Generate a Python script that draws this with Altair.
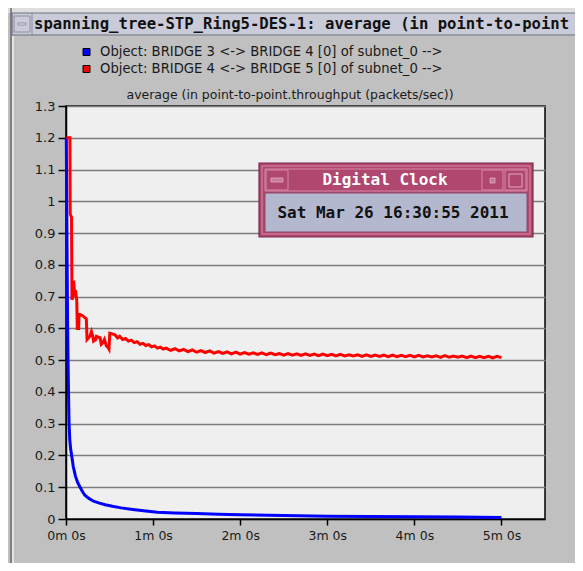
import altair as alt
import pandas as pd

# ---------------- data ----------------
series_names = [
    "Object: BRIDGE 3 <-> BRIDGE 4 [0] of subnet_0 -->",
    "Object: BRIDGE 4 <-> BRIDGE 5 [0] of subnet_0 -->",
]
series_colors = ["#0000ff", "#ff0000"]

blue_t = [0.2, 0.5, 0.8, 1.1, 1.4, 1.8, 2.1, 2.6, 3.2, 3.9, 5.0, 6.5, 8.0, 9.7, 11.5,
          13.0, 16.0, 19.0, 23.0, 27.0, 32.0, 38.0, 46.0, 55.0, 63.0, 75.0, 90.0, 105.0,
          120.0, 150.0, 180.0, 210.0, 240.0, 270.0, 300.0]
blue_v = [1.20, 1.00, 0.80, 0.62, 0.50, 0.38, 0.30, 0.25, 0.22, 0.20, 0.165, 0.135, 0.115,
          0.100, 0.085, 0.075, 0.064, 0.056, 0.050, 0.045, 0.040, 0.035, 0.030, 0.025, 0.021,
          0.019, 0.017, 0.015, 0.013, 0.011, 0.009, 0.008, 0.007, 0.006, 0.005]

red_t = [0.3, 2.7, 2.9, 3.8, 4.1, 4.9, 5.2, 6.0, 6.5, 7.4, 7.8, 8.7, 9.0, 11.5, 14.0, 14.5,
         16.5, 17.5, 18.5, 19.0, 20.5, 21.0, 23.5, 24.3, 25.5, 26.5, 27.8, 29.0, 29.6, 30.2,
         33.8, 35.5, 37.0, 39.0, 41.0, 43.0, 45.0, 47.0, 49.0, 51.0, 53.0, 55.0, 57.0, 59.0,
         61.0, 63.0, 65.0, 67.0,
         69, 72, 75, 78, 81, 84, 87, 90, 93, 96, 99, 102, 105, 108, 111, 114, 117, 120,
         123, 126, 129, 132, 135, 138, 141, 144, 147, 150, 153, 156, 159, 162, 165, 168,
         171, 174, 177, 180, 183, 186, 189, 192, 195, 198, 201, 204, 207, 210, 213, 216,
         219, 222, 225, 228, 231, 234, 237, 240, 243, 246, 249, 252, 255, 258, 261, 264,
         267, 270, 273, 276, 279, 282, 285, 288, 291, 294, 297, 300]
red_v = [1.20, 1.20, 0.96, 0.95, 0.69, 0.70, 0.75, 0.71, 0.72, 0.69, 0.60, 0.60, 0.645, 0.64,
         0.63, 0.565, 0.575, 0.59, 0.575, 0.56, 0.565, 0.575, 0.57, 0.55, 0.555, 0.565, 0.545,
         0.54, 0.535, 0.585, 0.58, 0.57, 0.575, 0.565, 0.568, 0.56, 0.563, 0.555, 0.558, 0.55,
         0.553, 0.546, 0.549, 0.542, 0.545, 0.538, 0.541, 0.535,
         0.538, 0.531, 0.536, 0.529, 0.534, 0.527, 0.532, 0.525, 0.530, 0.524, 0.529, 0.522,
         0.527, 0.521, 0.526, 0.520, 0.525, 0.519, 0.524, 0.519, 0.523, 0.518, 0.523, 0.517,
         0.522, 0.517, 0.521, 0.516, 0.521, 0.516, 0.520, 0.515, 0.520, 0.515, 0.519, 0.514,
         0.519, 0.514, 0.518, 0.513, 0.518, 0.513, 0.517, 0.513, 0.517, 0.512, 0.517, 0.512,
         0.516, 0.512, 0.516, 0.511, 0.516, 0.511, 0.515, 0.511, 0.515, 0.510, 0.515, 0.510,
         0.514, 0.510, 0.514, 0.509, 0.514, 0.509, 0.513, 0.509, 0.513, 0.508, 0.513, 0.508,
         0.512, 0.508, 0.512, 0.507, 0.512, 0.508]

y_ticks = [0, 0.1, 0.2, 0.3, 0.4, 0.5, 0.6, 0.7, 0.8, 0.9, 1.0, 1.1, 1.2, 1.3]
x_ticks = [0, 60, 120, 180, 240, 300]
x_labels = ["0m 0s", "1m 0s", "2m 0s", "3m 0s", "4m 0s", "5m 0s"]

window_title = "spanning_tree-STP_Ring5-DES-1: average (in point-to-point"
plot_title = "average (in point-to-point.throughput (packets/sec))"
clock_title = "Digital Clock"
clock_text = "Sat Mar 26 16:30:55 2011"

# ---------------- layout ----------------
W, H = 479, 413
PAD = {"left": 58, "top": 98, "right": 30, "bottom": 44}
SANS = "DejaVu Sans"
MONO = "DejaVu Sans Mono"

one = pd.DataFrame({"k": [0]})

label_expr = " : ".join(
    f"datum.value == {v} ? '{l}'" for v, l in zip(x_ticks, x_labels)
) + " : ''"

xs = alt.Scale(domain=[0, 330], nice=False, zero=True)
ys = alt.Scale(domain=[0, 1.3], nice=False, zero=True)

x_axis = alt.Axis(values=x_ticks, labelExpr=label_expr, title=None, grid=False,
                  tickSize=6, tickColor="#000", tickWidth=1.5, domainColor="#000",
                  domainWidth=1.5, labelFont=SANS, labelFontSize=12.5, labelColor="#1a1a1a",
                  labelPadding=4, labelFlush=False, labelOverlap=False)
y_axis = alt.Axis(values=y_ticks, format=".1~f", title=None, grid=True,
                  gridColor="#7c7c7c", gridWidth=1.5, tickSize=8, tickColor="#000",
                  tickWidth=1.5, domainColor="#000", domainWidth=1.5, labelFont=SANS,
                  labelFontSize=13, labelColor="#1a1a1a", labelPadding=3,
                  labelFlush=False, labelOverlap=False, tickCount=14)


def box(x1, x2, y1, y2, fill=None, stroke=None, sw=1.0):
    kw = {}
    kw["fill"] = fill if fill else "transparent"
    if stroke:
        kw["stroke"] = stroke
        kw["strokeWidth"] = sw
    return alt.Chart(one).mark_rect(**kw).encode(
        x=alt.value(x1), x2=alt.value(x2), y=alt.value(y1), y2=alt.value(y2))


def line(x1, x2, y1, y2, color, sw=1.0):
    return alt.Chart(one).mark_rule(color=color, strokeWidth=sw).encode(
        x=alt.value(x1), x2=alt.value(x2), y=alt.value(y1), y2=alt.value(y2))


def label(txt, x, y, size, font=SANS, color="#1a1a1a", weight="normal", align="left"):
    return alt.Chart(pd.DataFrame({"t": [txt]})).mark_text(
        align=align, baseline="middle", font=font, fontSize=size, fontWeight=weight,
        color=color).encode(x=alt.value(x), y=alt.value(y), text="t:N")


# ---- outer window decorations (relative to plot origin) ----
deco = [
    box(-58, 509, -98, -93, fill="#dedede"),
    line(-55, -55, -98, 457, "#6a6a6a", 1.5),
    line(-53, -53, -70, 457, "#f2f2f2", 1.5),
    box(-54, 512, -93, -71, fill="#c9cbd9", stroke="#6e7080", sw=1.2),
    box(-52, -36, -90, -74, fill="#c9cbd9", stroke="#8d8fa0", sw=1),
    box(-48, -40, -83, -81, fill="#e6e7ef", stroke="#7d7f8c", sw=0.8),
    line(-34, -34, -93, -71, "#8d8fa0", 1),
    label(window_title, -32, -82, 15.6, font=MONO, color="#111", weight="bold"),
]

# legend
for i, (name, col) in enumerate(zip(series_names, series_colors)):
    yc = -54 + i * 17
    deco.append(box(17, 24, yc - 3.5, yc + 3.5, fill=col, stroke="#000", sw=1))
    deco.append(label(name, 34, yc, 13.2))

deco.append(label(plot_title, 224, -11, 12.5, align="center"))

# ---- data lines ----
blue_df = pd.DataFrame({"t": blue_t, "v": blue_v, "s": series_names[0]})
red_df = pd.DataFrame({"t": red_t, "v": red_v, "s": series_names[1]})

blue_line = alt.Chart(blue_df).mark_line(color=series_colors[0], strokeWidth=3).encode(
    x=alt.X("t:Q", scale=xs, axis=x_axis), y=alt.Y("v:Q", scale=ys, axis=y_axis))
red_line = alt.Chart(red_df).mark_line(color=series_colors[1], strokeWidth=3).encode(
    x=alt.X("t:Q", scale=xs, axis=x_axis), y=alt.Y("v:Q", scale=ys, axis=y_axis))

# ---- Digital Clock window ----
PINK = "#b0476f"
PINK_LIGHT = "#d88aa6"
PINK_DARK = "#7a2a4a"
clock = [
    box(193, 467, 57, 131, fill=PINK, stroke=PINK_DARK, sw=1.2),
    box(196, 464, 60, 128, stroke=PINK_LIGHT, sw=1),
    box(199, 461, 63, 85, fill=PINK, stroke=PINK_LIGHT, sw=1),
    box(200, 222, 64, 84, fill=PINK, stroke=PINK_LIGHT, sw=1),
    box(205, 217, 72, 76, fill="#c9799a", stroke="#e4a9bf", sw=0.8),
    box(416, 437, 64, 84, fill=PINK, stroke=PINK_LIGHT, sw=1),
    box(424, 429, 72, 77, fill="#c9799a", stroke="#e4a9bf", sw=0.8),
    box(439, 460, 64, 84, fill=PINK, stroke=PINK_LIGHT, sw=1),
    box(443, 456, 68, 81, fill=PINK, stroke="#e4a9bf", sw=1),
    box(199, 461, 87, 126, fill="#b4b8ce", stroke="#8a4a68", sw=1),
    label(clock_title, 319, 74, 16, font=MONO, color="#ffffff", weight="bold", align="center"),
    label(clock_text, 327, 107, 16, font=MONO, color="#111111", weight="bold", align="center"),
]

chart = alt.layer(*deco, blue_line, red_line, *clock).properties(
    width=W, height=H,
    autosize=alt.AutoSizeParams(type="none"),
    padding=PAD,
    background="#c0c0c0",
).configure_view(fill="#efefef", stroke="#000", strokeWidth=1.5)

chart.save("out.html", embed_options={"renderer": "svg", "actions": False})
